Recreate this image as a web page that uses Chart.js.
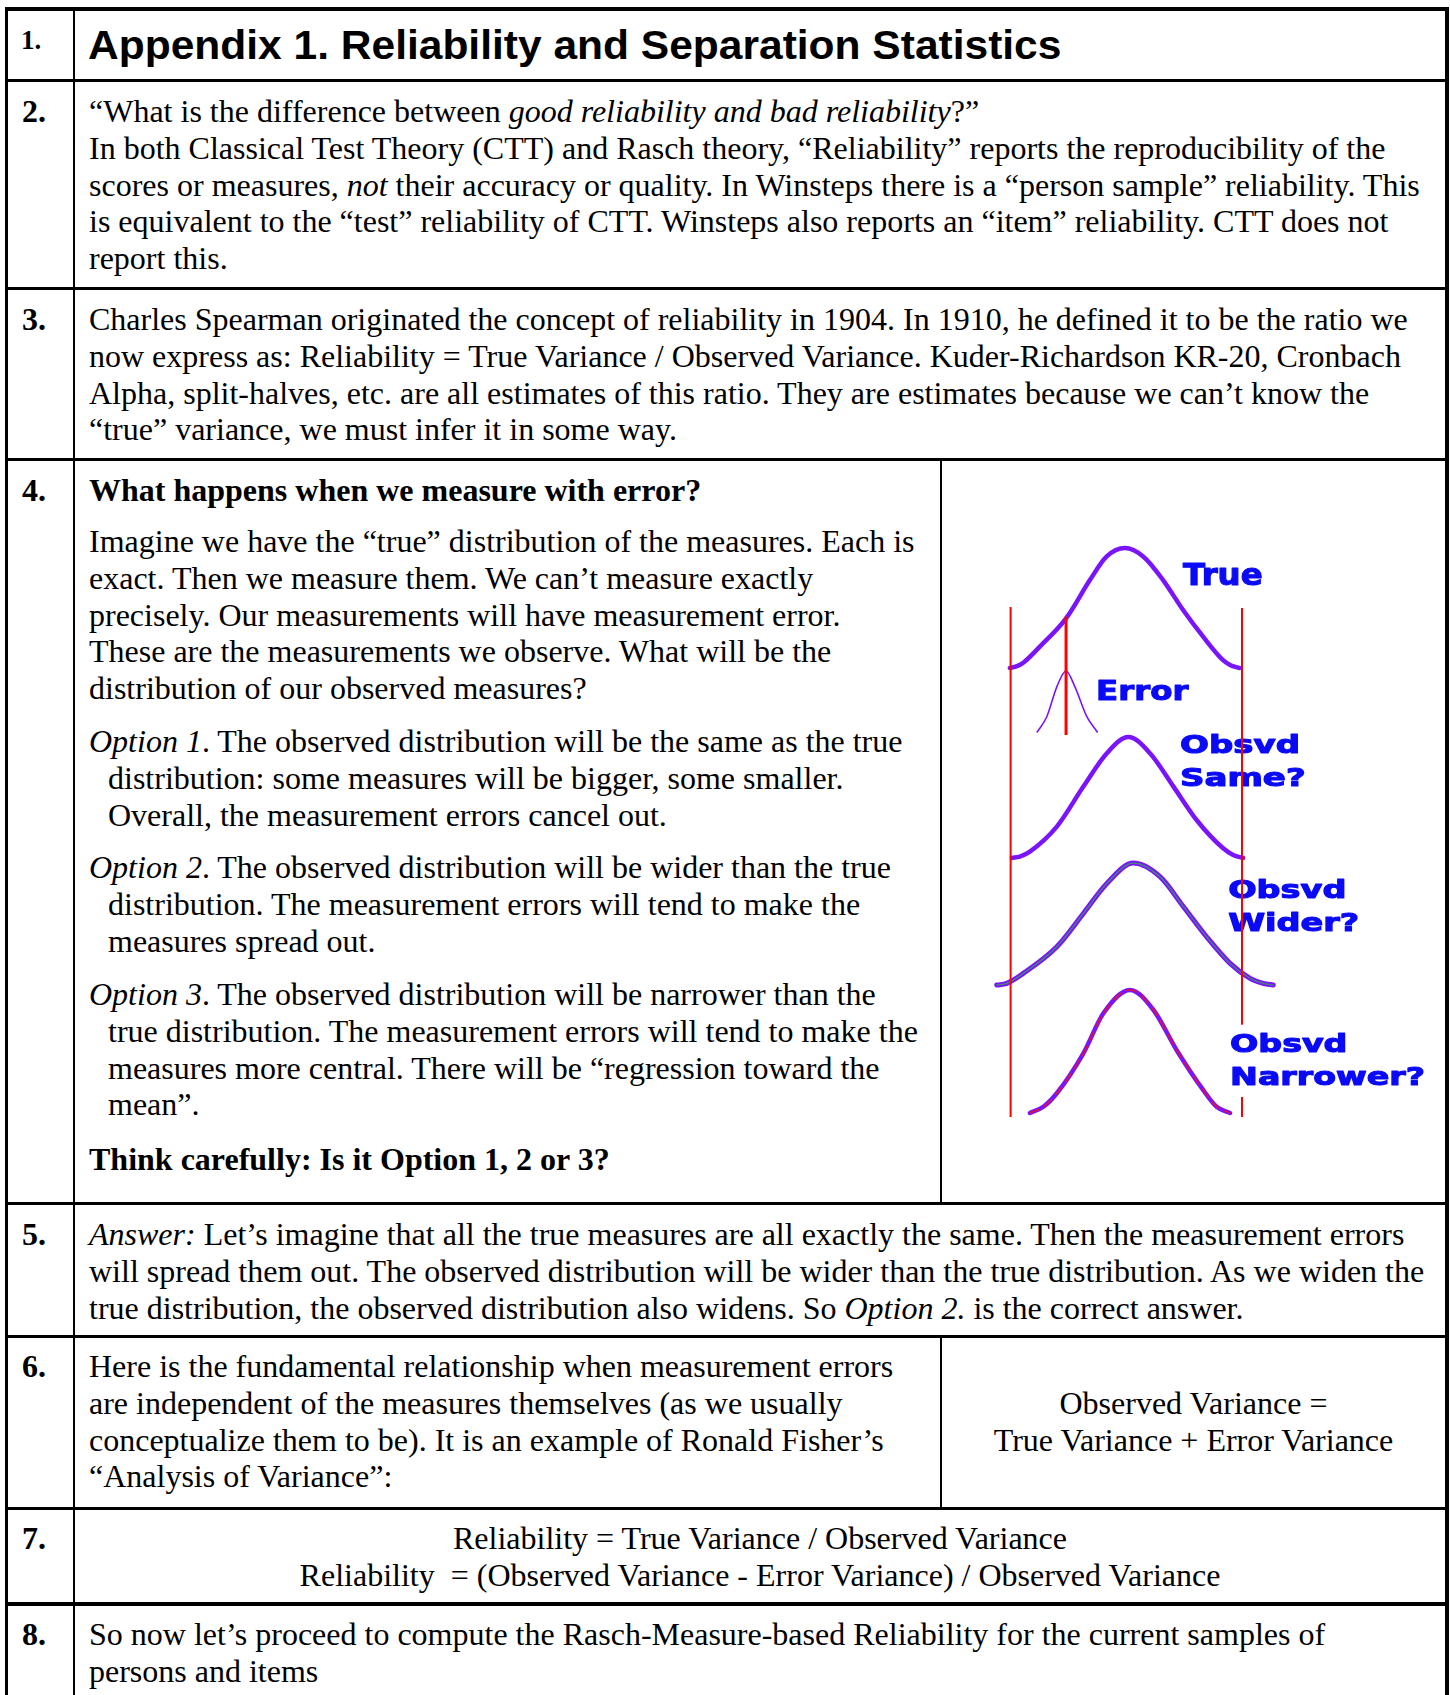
<!DOCTYPE html>
<html><head><meta charset="utf-8">
<script src="https://cdn.jsdelivr.net/npm/chart.js@4.4.1/dist/chart.umd.min.js"></script>
<style>
html,body{margin:0;padding:0;background:#fff;}
body{width:1450px;height:1695px;position:relative;overflow:hidden;font-family:"Liberation Serif","Times New Roman",serif;font-size:32px;color:#000;}
.hl{position:absolute;background:#000;left:5px;width:1444px;height:3px;}
.vl{position:absolute;background:#000;}
.t{position:absolute;left:89px;line-height:36.8px;white-space:nowrap;}
.n{position:absolute;left:22px;font-weight:bold;line-height:36.8px;}
.opt{padding-left:19px;text-indent:-19px;}
.c{position:absolute;text-align:center;line-height:36.8px;white-space:nowrap;}
#title{position:absolute;left:88px;top:22px;font-family:"Liberation Sans",Arial,sans-serif;font-weight:bold;font-size:41px;line-height:46px;white-space:nowrap;transform-origin:0 0;transform:scaleX(1.037);}
#chartBox{position:absolute;left:945px;top:530px;width:498px;height:595px;}
</style></head>
<body>
<!-- grid -->
<div class="hl" style="top:7px;height:4px"></div>
<div class="hl" style="top:79px"></div>
<div class="hl" style="top:287px"></div>
<div class="hl" style="top:458px"></div>
<div class="hl" style="top:1202px"></div>
<div class="hl" style="top:1335px"></div>
<div class="hl" style="top:1507px"></div>
<div class="hl" style="top:1602px;height:4px"></div>
<div class="vl" style="left:5px;top:7px;width:3px;height:1688px"></div>
<div class="vl" style="left:1445px;top:7px;width:4px;height:1688px"></div>
<div class="vl" style="left:73px;top:7px;width:2px;height:1688px"></div>
<div class="vl" style="left:940px;top:460px;width:2px;height:743px"></div>
<div class="vl" style="left:940px;top:1337px;width:2px;height:171px"></div>

<!-- numbers -->
<div class="n" style="top:25px;left:21px;font-size:27px;line-height:30px">1.</div>
<div class="n" style="top:93px">2.</div>
<div class="n" style="top:301px">3.</div>
<div class="n" style="top:472px">4.</div>
<div class="n" style="top:1216px">5.</div>
<div class="n" style="top:1348px">6.</div>
<div class="n" style="top:1520px">7.</div>
<div class="n" style="top:1616px">8.</div>

<div id="title">Appendix 1. Reliability and Separation Statistics</div>

<div class="t" style="top:93px">“What is the difference between <i>good reliability and bad reliability</i>?”<br>In both Classical Test Theory (CTT) and Rasch theory, “Reliability” reports the reproducibility of the<br>scores or measures, <i>not</i> their accuracy or quality. In Winsteps there is a “person sample” reliability. This<br>is equivalent to the “test” reliability of CTT. Winsteps also reports an “item” reliability. CTT does not<br>report this.</div>

<div class="t" style="top:301px">Charles Spearman originated the concept of reliability in 1904. In 1910, he defined it to be the ratio we<br>now express as: Reliability = True Variance / Observed Variance. Kuder-Richardson KR-20, Cronbach<br>Alpha, split-halves, etc. are all estimates of this ratio. They are estimates because we can’t know the<br>“true” variance, we must infer it in some way.</div>

<div class="t" style="top:472px;font-weight:bold">What happens when we measure with error?</div>
<div class="t" style="top:523px">Imagine we have the “true” distribution of the measures. Each is<br>exact. Then we measure them. We can’t measure exactly<br>precisely. Our measurements will have measurement error.<br>These are the measurements we observe. What will be the<br>distribution of our observed measures?</div>
<div class="t opt" style="top:723px"><i>Option 1</i>. The observed distribution will be the same as the true<br>distribution: some measures will be bigger, some smaller.<br>Overall, the measurement errors cancel out.</div>
<div class="t opt" style="top:849px"><i>Option 2</i>. The observed distribution will be wider than the true<br>distribution. The measurement errors will tend to make the<br>measures spread out.</div>
<div class="t opt" style="top:976px"><i>Option 3</i>. The observed distribution will be narrower than the<br>true distribution. The measurement errors will tend to make the<br>measures more central. There will be “regression toward the<br>mean”.</div>
<div class="t" style="top:1141px;font-weight:bold">Think carefully: Is it Option 1, 2 or 3?</div>

<div class="t" style="top:1216px"><i>Answer:</i> Let’s imagine that all the true measures are all exactly the same. Then the measurement errors<br>will spread them out. The observed distribution will be wider than the true distribution. As we widen the<br>true distribution, the observed distribution also widens. So <i>Option 2.</i> is the correct answer.</div>

<div class="t" style="top:1348px">Here is the fundamental relationship when measurement errors<br>are independent of the measures themselves (as we usually<br>conceptualize them to be). It is an example of Ronald Fisher’s<br>“Analysis of Variance”:</div>
<div class="c" style="left:942px;width:503px;top:1385px">Observed Variance =<br>True Variance + Error Variance</div>

<div class="c" style="left:75px;width:1370px;top:1520px">Reliability = True Variance / Observed Variance<br>Reliability&nbsp; = (Observed Variance - Error Variance) / Observed Variance</div>

<div class="t" style="top:1616px">So now let’s proceed to compute the Rasch-Measure-based Reliability for the current samples of<br>persons and items</div>

<div id="chartBox"><canvas id="chart" width="498" height="595"></canvas></div>

<script>
// ---- values (x in logits, y = relative density) ----
const trueX   = [-3.03,-2.86,-2.68,-2.25,-1.57,-0.95,-0.52,-0.04,0.44,0.95,1.47,1.99,2.50,2.69,2.93];
const trueY   = [0,0.013,0.044,0.178,0.414,0.733,0.928,1.0,0.928,0.733,0.483,0.261,0.067,0.025,0];
const errorX  = [-2.32,-2.07,-1.81,-1.57,-1.34,-1.03,-0.76];
const errorY  = [0,0.25,0.74,1.0,0.74,0.25,0];
const sameX   = [-2.98,-2.77,-2.51,-1.81,-1.12,-0.51,0.05,0.61,1.22,1.82,2.51,2.77,3.03];
const sameY   = [0,0.011,0.052,0.259,0.59,0.866,1.0,0.866,0.59,0.314,0.08,0.025,0];
const widerX  = [-3.37,-3.11,-2.68,-1.81,-1.12,-0.51,0.18,0.87,1.48,2.08,2.69,3.21,3.55,3.81];
const widerY  = [0,0.014,0.096,0.314,0.587,0.833,1.0,0.888,0.642,0.396,0.178,0.055,0.014,0];
const narrowX = [-2.51,-2.16,-1.81,-1.12,-0.60,0.09,0.70,1.30,1.99,2.34,2.69];
const narrowY = [0,0.05,0.16,0.485,0.81,1.0,0.837,0.512,0.187,0.05,0];
// red range markers: x positions and vertical extent (fraction of plot height)
const rangeX  = [-3.01, 3.0];
const rangeSpan = [[0,0.884],[0,0.882]];
const errorCentreX = -1.57;
const errorCentreSpan = [0.662,0.867];
const curveLabels = [["True"],["Error"],["Obsvd","Same?"],["Obsvd","Wider?"],["Obsvd","Narrower?"]];

const PURPLE = '#7a14fb', RED = '#ff0000', BLUE = '#0a0af5';
const pts = (xs, ys) => xs.map((x,i)=>({x, y: ys[i]}));
const vline = (x, span) => [{x, y: span[0]}, {x, y: span[1]}];

const curveDs = (data, axis, color, width, order, dash) => ({
  data, yAxisID: axis, borderColor: color, borderWidth: width, pointRadius: 0,
  fill: false, cubicInterpolationMode: 'monotone', clip: false, order,
  borderDash: dash || [], borderCapStyle: 'round', borderJoinStyle: 'round'
});
const lineDs = (data, width, order) => ({
  data, yAxisID: 'yAll', borderColor: RED, borderWidth: width, pointRadius: 0,
  fill: false, tension: 0, clip: false, order
});

function drawLabels(chart, items) {
  const ctx = chart.ctx, xs = chart.scales.x;
  items.forEach(it => {
    const ys = chart.scales[it.axis];
    const px = xs.getPixelForValue(it.x), py = ys.getPixelForValue(it.y);
    ctx.save();
    ctx.font = 'bold ' + it.size + 'px "DejaVu Sans"';
    ctx.textBaseline = 'alphabetic';
    if (it.background) {
      let w = 0; it.text.forEach(s => { w = Math.max(w, ctx.measureText(s).width * it.stretch); });
      ctx.fillStyle = it.background;
      ctx.fillRect(px - it.pad[3], py - it.size*0.73 - it.pad[0], w + it.pad[1] + it.pad[3],
        it.size*0.73 + (it.text.length-1)*it.lineHeight + it.pad[0] + it.pad[2]);
    }
    ctx.translate(px, py);
    ctx.scale(it.stretch, 1);
    ctx.fillStyle = BLUE;
    ctx.strokeStyle = BLUE;
    ctx.lineWidth = 1.1;
    ctx.lineJoin = 'round';
    it.text.forEach((s,i) => { ctx.fillText(s, 0, i*it.lineHeight); ctx.strokeText(s, 0, i*it.lineHeight); });
    ctx.restore();
  });
}
const labelPlugin = {
  id: 'curveLabels',
  beforeDatasetsDraw(chart, a, opts) { drawLabels(chart, opts.items.filter(l => !l.background)); },
  afterDatasetsDraw(chart, a, opts) { drawLabels(chart, opts.items.filter(l => l.background)); }
};

new Chart(document.getElementById('chart'), {
  type: 'line',
  data: { datasets: [
    lineDs(vline(rangeX[0], rangeSpan[0]), 2, 0),
    lineDs(vline(rangeX[1], rangeSpan[1]), 2, 0),
    lineDs(vline(errorCentreX, errorCentreSpan), 3, 0),
    curveDs(pts(trueX, trueY), 'yTrue', PURPLE, 4.5, 5),
    curveDs(pts(errorX, errorY), 'yError', PURPLE, 1.6, 5),
    curveDs(pts(sameX, sameY), 'ySame', PURPLE, 4.5, 5),
    curveDs(pts(widerX, widerY), 'yWider', PURPLE, 5, 5),
    curveDs(pts(widerX, widerY), 'yWider', '#3d9068', 1.2, 4),
    curveDs(pts(narrowX, narrowY), 'yNarrow', PURPLE, 4.5, 5),
    curveDs(pts(narrowX, narrowY), 'yNarrow', '#f01020', 1.3, 4, [10, 6])
  ]},
  plugins: [labelPlugin],
  options: {
    responsive: false, animation: false, events: [],
    layout: { padding: { left: 27.5, right: 8.5, top: 10, bottom: 8 } },
    plugins: {
      legend: { display: false }, tooltip: { enabled: false },
      curveLabels: { items: [
        { text: curveLabels[0], axis: 'yTrue',   x: 1.47,  y: 0.69,  size: 30, stretch: 1.08, lineHeight: 33 },
        { text: curveLabels[1], axis: 'yError',  x: -0.79, y: 0.525, size: 27, stretch: 1.2,  lineHeight: 33 },
        { text: curveLabels[2], axis: 'ySame',   x: 1.39,  y: 0.868, size: 25, stretch: 1.36, lineHeight: 33 },
        { text: curveLabels[3], axis: 'yWider',  x: 2.64,  y: 0.713, size: 25, stretch: 1.34, lineHeight: 33 },
        { text: curveLabels[4], axis: 'yNarrow', x: 2.69,  y: 0.496, size: 25, stretch: 1.33, lineHeight: 33,
          background: '#ffffff', pad: [9, 4, 12, 4] }
      ]}
    },
    scales: {
      x:       { type: 'linear', min: -4, max: 8, display: false },
      yTrue:   { type: 'linear', position: 'right', stack: 'curves', stackWeight: 130, weight: 1, min: -0.017, max: 1.067, display: false },
      yError:  { type: 'linear', position: 'right', stack: 'curves', stackWeight: 64,  weight: 2, min: -0.033, max: 1.016, display: false },
      ySame:   { type: 'linear', position: 'right', stack: 'curves', stackWeight: 126, weight: 3, min: -0.017, max: 1.025, display: false },
      yWider:  { type: 'linear', position: 'right', stack: 'curves', stackWeight: 127, weight: 4, min: -0.016, max: 1.025, display: false },
      yNarrow: { type: 'linear', position: 'right', stack: 'curves', stackWeight: 130, weight: 5, min: -0.033, max: 1.024, display: false },
      yAll:    { type: 'linear', position: 'left', min: 0, max: 1, display: false }
    }
  }
});
</script>
</body></html>
